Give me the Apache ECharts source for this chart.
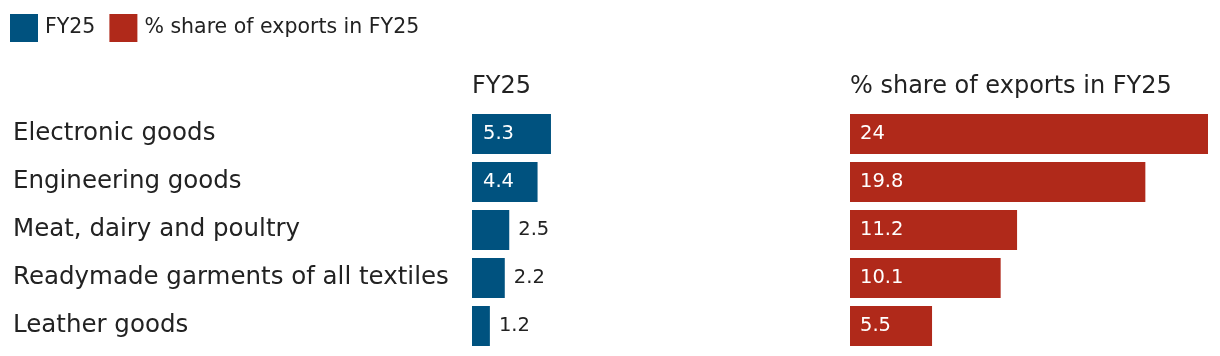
<!DOCTYPE html>
<html><head><meta charset="utf-8">
<script src="https://cdn.jsdelivr.net/npm/echarts@6/dist/echarts.min.js"></script>
<style>html,body{margin:0;padding:0;background:#fff}#c{width:1220px;height:356px}</style>
</head><body><div id="c"></div>
<script>
const categories = ['Electronic goods','Engineering goods','Meat, dairy and poultry','Readymade garments of all textiles','Leather goods'];
const fy25 = [5.3, 4.4, 2.5, 2.2, 1.2];
const share = [24, 19.8, 11.2, 10.1, 5.5];
const seriesNames = ['FY25', '% share of exports in FY25'];

const BLUE = '#00527f', RED = '#b0291a', TXT = '#222';
const FONT = '"DejaVu Sans", sans-serif';
const chart = echarts.init(document.getElementById('c'));
chart.setOption({
  animation: false,
  textStyle: { fontFamily: FONT },
  legend: {
    left: 10, top: 14, padding: 0, itemWidth: 28, itemHeight: 28, itemGap: 14, icon: 'rect',
    textStyle: { fontSize: 20.5, color: TXT, fontFamily: FONT, padding: [0, 0, 0, 2] },
    data: seriesNames
  },
  title: [
    { text: seriesNames[0], left: 472, top: 75, padding: 0, textStyle: { fontSize: 24, fontWeight: 'normal', color: TXT, fontFamily: FONT } },
    { text: seriesNames[1], left: 850, top: 75, padding: 0, textStyle: { fontSize: 24, fontWeight: 'normal', color: TXT, fontFamily: FONT } }
  ],
  grid: [
    { left: 472, top: 110, width: 149, height: 240 },
    { left: 850, top: 110, width: 358, height: 240 }
  ],
  xAxis: [
    { gridIndex: 0, type: 'value', min: 0, max: 10, show: false },
    { gridIndex: 1, type: 'value', min: 0, max: 24, show: false }
  ],
  yAxis: [
    { gridIndex: 0, type: 'category', data: categories, inverse: true,
      axisLine: { show: false }, axisTick: { show: false },
      axisLabel: { align: 'left', margin: 459, fontSize: 24.5, color: TXT, fontFamily: FONT } },
    { gridIndex: 1, type: 'category', data: categories, inverse: true, show: false }
  ],
  series: [
    { name: seriesNames[0], type: 'bar', xAxisIndex: 0, yAxisIndex: 0, barWidth: 40,
      itemStyle: { color: BLUE },
      data: fy25.map(v => ({
        value: v,
        label: v >= 4 ? { position: 'insideLeft', distance: 11, color: '#fff' }
                      : { position: 'right', distance: 9, color: TXT }
      })),
      label: { show: true, fontSize: 19.5, fontFamily: FONT }
    },
    { name: seriesNames[1], type: 'bar', xAxisIndex: 1, yAxisIndex: 1, barWidth: 40,
      itemStyle: { color: RED },
      label: { show: true, position: 'insideLeft', distance: 10, color: '#fff', fontSize: 19.5, fontFamily: FONT },
      data: share
    }
  ]
});
</script></body></html>
